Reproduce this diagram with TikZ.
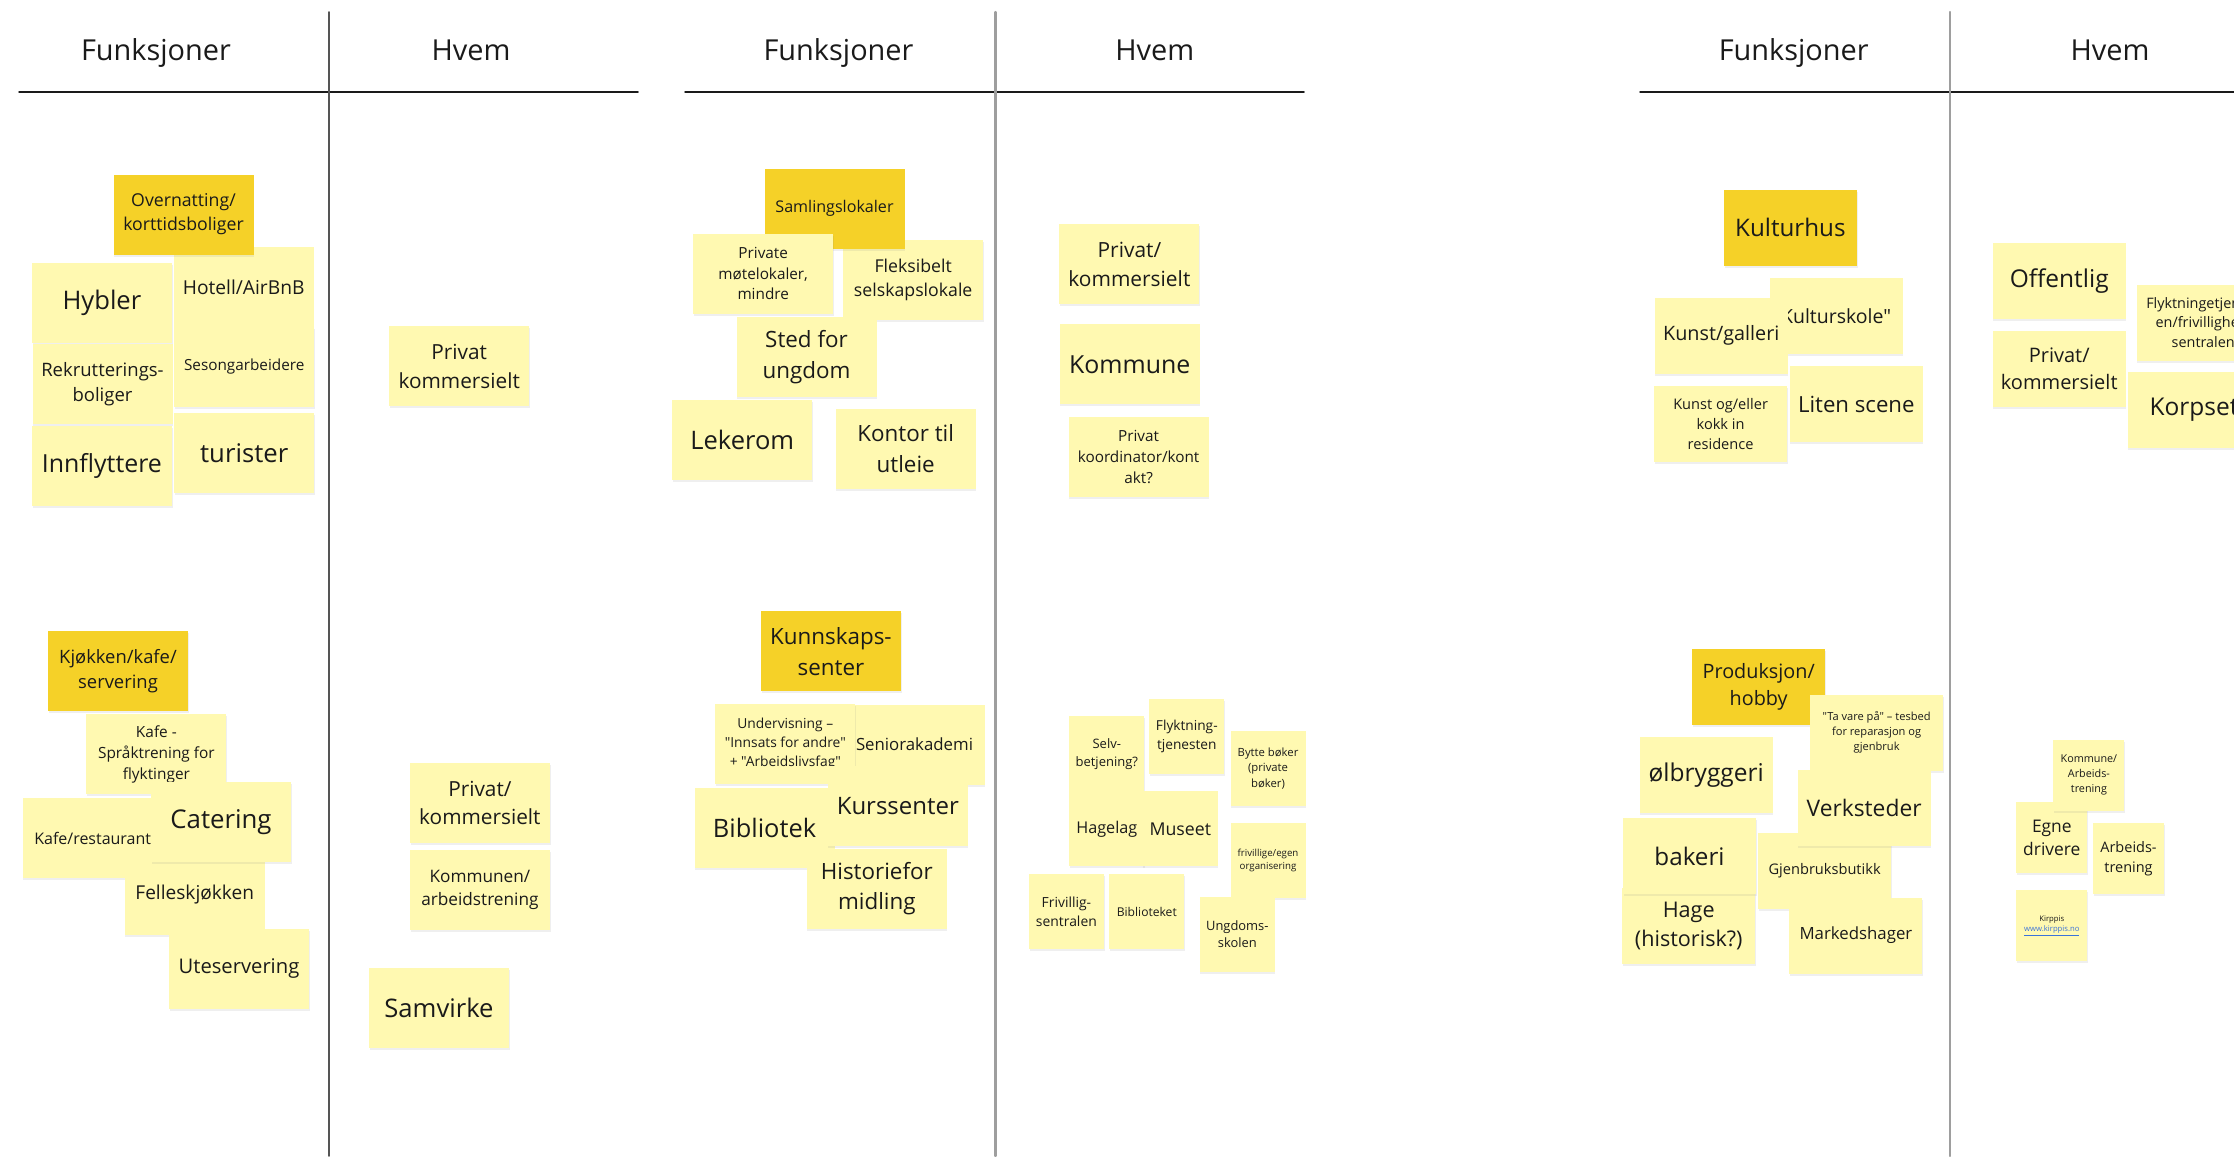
\documentclass[tikz,border=0pt]{standalone}
\usepackage{fontspec}
\setmainfont{Open Sans}[Ligatures=TeXOff]
\usetikzlibrary{shadows}
\definecolor{lappgul}{HTML}{FFF9B1}
\definecolor{hovedgul}{HTML}{F5D128}
\definecolor{tekst}{HTML}{1A1A1A}
\definecolor{skille}{HTML}{9E9E9E}
\definecolor{skillemork}{HTML}{555555}
\definecolor{lenke}{HTML}{3B73D9}
\newcommand\lappfont[1]{\pgfmathsetmacro\lappskip{1.36*#1}\fontsize{#1}{\lappskip}\selectfont}
\tikzset{
  lapp/.style={rectangle,fill=lappgul,text=tekst,align=center,inner sep=2pt,
    minimum width=140pt,minimum height=80pt,
    drop shadow={shadow xshift=0.6pt,shadow yshift=-2pt,opacity=0.12}},
  hovedlapp/.style={lapp,fill=hovedgul},
  smal/.style={minimum width=75pt,minimum height=75pt},
  mellom/.style={minimum width=133pt,minimum height=76pt},
  minst/.style={minimum width=71pt,minimum height=71pt},
  fs/.style={font=\lappfont{#1}},
  overskrift/.style={anchor=base,text=tekst,font=\lappfont{28.9}}
}
\begin{document}
\begin{tikzpicture}[line cap=round,line join=round,x=1.0pt,y=-1.0pt]
            \clip(0.,0.) rectangle (2234.,1156.);
            \fill[white] (0.,0.) rectangle (2234.,1156.);
            \draw [line width=1.5pt,color=tekst] (19.,92.)-- (638.,92.);
            \draw [line width=1.5pt,color=tekst] (685.,92.)-- (1304.,92.);
            \draw [line width=1.5pt,color=tekst] (1640.,92.)-- (2234.,92.);
            \draw [line width=1.8pt,color=skillemork] (328.7,12.)-- (328.7,1156.);
            \draw [line width=2.2pt,color=skille] (995.5,12.)-- (995.5,1156.);
            \draw [line width=2.2pt,color=skille] (1950.,12.)-- (1950.,1156.);
            \draw (156.,60.3) node[overskrift] (funk1) {Funksjoner};
            \draw (471.,60.3) node[overskrift] (hvem1) {Hvem};
            \draw (838.5,60.3) node[overskrift] (funk2) {Funksjoner};
            \draw (1154.7,60.3) node[overskrift] (hvem2) {Hvem};
            \draw (1793.7,60.3) node[overskrift] (funk3) {Funksjoner};
            \draw (2110.,60.3) node[overskrift] (hvem3) {Hvem};
            \draw (243.7,286.8) node[lapp,fs=19.2] (hotell) {Hotell/AirBnB};
            \draw (183.5,214.5) node[hovedlapp,fs=17.7] (overnatting) {Overnatting/\\korttidsboliger};
            \draw (101.9,302.7) node[lapp,fs=25.6] (hybler) {Hybler};
            \draw (244.2,366.9) node[lapp,fs=15.3] (sesong) {Sesongarbeidere};
            \draw (102.5,384.3) node[lapp,fs=18.5] (rekruttering) {Rekrutterings-\\boliger};
            \draw (101.9,466.1) node[lapp,fs=24.9] (innflyttere) {Innflyttere};
            \draw (244.2,452.8) node[lapp,fs=25.7] (turister) {turister};
            \draw (459.2,366.4) node[lapp,fs=20.8] (privat1) {Privat\\kommersielt};
            \draw (118.,670.7) node[hovedlapp,fs=18.4] (kjokken) {Kjøkken/kafe/\\servering};
            \draw (156.4,754.2) node[lapp,fs=15.4] (kafesprak) {Kafe -\\Språktrening for\\flyktinger};
            \draw (92.7,838.2) node[lapp,fs=16.] (kaferest) {Kafe/restaurant};
            \draw (194.7,895.) node[lapp,fs=19.1] (felles) {Felleskjøkken};
            \draw (221.,822.) node[lapp,fs=25.8] (catering) {Catering};
            \draw (239.,968.7) node[lapp,fs=20.2] (ute) {Uteservering};
            \draw (479.9,802.7) node[lapp,fs=20.8] (privat2) {Privat/\\kommersielt};
            \draw (479.9,889.7) node[lapp,fs=17.2] (kommunen) {Kommunen/\\arbeidstrening};
            \draw (439.,1007.6) node[lapp,fs=25.6] (samvirke) {Samvirke};
            \draw (913.2,280.3) node[lapp,fs=17.7] (fleksibelt) {Fleksibelt\\selskapslokale};
            \draw (834.5,208.7) node[hovedlapp,fs=16.1] (samling) {Samlingslokaler};
            \draw (763.2,273.5) node[lapp,fs=15.3] (motelokaler) {Private\\møtelokaler,\\mindre};
            \draw (806.5,356.9) node[lapp,fs=22.4] (ungdomssted) {Sted for\\ungdom};
            \draw (742.3,440.1) node[lapp,fs=25.5] (lekerom) {Lekerom};
            \draw (905.7,448.7) node[lapp,fs=22.4] (kontor) {Kontor til\\utleie};
            \draw (1129.4,264.3) node[lapp,fs=20.9] (privat3) {Privat/\\kommersielt};
            \draw (1129.7,364.4) node[lapp,fs=24.9] (kommune) {Kommune};
            \draw (1138.6,456.7) node[lapp,fs=15.3] (koordinator) {Privat\\koordinator/kont\\akt?};
            \draw (830.9,651.4) node[hovedlapp,fs=22.4] (kunnskap) {Kunnskaps-\\senter};
            \draw (914.5,744.5) node[lapp,fs=16.8] (senior) {Seniorakademi};
            \draw (785.3,743.9) node[lapp,fs=13.8] (undervisning) {Undervisning –\\"Innsats for andre"\\+ "Arbeidslivsfag"};
            \draw (764.5,828.2) node[lapp,fs=25.4] (bibliotek) {Bibliotek};
            \draw (897.8,805.8) node[lapp,fs=24.] (kurs) {Kurssenter};
            \draw (876.8,888.7) node[lapp,fs=22.4] (historie) {Historiefor\\midling};
            \draw (1106.8,753.8) node[lapp,smal,fs=13.] (selv) {Selv-\\betjening?};
            \draw (1186.8,736.5) node[lapp,smal,fs=13.7] (flyktning) {Flyktning-\\tjenesten};
            \draw (1268.,768.3) node[lapp,smal,fs=11.3] (bytte) {Bytte bøker\\(private\\bøker)};
            \draw (1106.8,828.8) node[lapp,smal,fs=16.2] (hagelag) {Hagelag};
            \draw (1180.3,828.8) node[lapp,smal,fs=17.7] (museet) {Museet};
            \draw (1268.,860.3) node[lapp,smal,fs=9.7] (frivillige) {frivillige/egen\\organisering};
            \draw (1066.4,911.7) node[lapp,smal,fs=13.9] (frivsentral) {Frivillig-\\sentralen};
            \draw (1146.8,911.7) node[lapp,smal,fs=12.1] (biblioteket) {Biblioteket};
            \draw (1237.3,934.1) node[lapp,smal,fs=12.9] (ungdomsskole) {Ungdoms-\\skolen};
            \draw (1790.4,227.9) node[hovedlapp,mellom,fs=24.2] (kulturhus) {Kulturhus};
            \draw (1836.1,316.1) node[lapp,mellom,fs=19.5] (kulturskole) {Kulturskole"};
            \draw (1721.2,335.5) node[lapp,mellom,fs=19.8] (galleri) {Kunst/galleri};
            \draw (1720.6,423.9) node[lapp,mellom,fs=14.6] (residence) {Kunst og/eller\\kokk in\\residence};
            \draw (1856.3,404.3) node[lapp,mellom,fs=22.2] (scene) {Liten scene};
            \draw (2059.2,280.7) node[lapp,mellom,fs=24.5] (offentlig) {Offentlig};
            \draw (2059.2,368.8) node[lapp,mellom,fs=20.] (privat4) {Privat/\\kommersielt};
            \draw (2203.2,322.5) node[lapp,mellom,fs=14.4] (flyktsentral) {Flyktningetjenest\\en/frivillighets\\sentralen};
            \draw (2194.,409.8) node[lapp,mellom,fs=24.5] (korpset) {Korpset};
            \draw (1758.7,686.8) node[hovedlapp,mellom,fs=19.8] (produksjon) {Produksjon/\\hobby};
            \draw (1876.6,732.5) node[lapp,mellom,fs=11.1] (tavare) {"Ta vare på" – tesbed\\for reparasjon og\\gjenbruk};
            \draw (1706.2,774.8) node[lapp,mellom,fs=24.5] (ol) {ølbryggeri};
            \draw (1824.6,871.1) node[lapp,mellom,fs=14.6] (gjenbruk) {Gjenbruksbutikk};
            \draw (1864.1,808.2) node[lapp,mellom,fs=22.8] (verksted) {Verksteder};
            \draw (1688.7,925.8) node[lapp,mellom,fs=21.6] (hage) {Hage\\(historisk?)};
            \draw (1689.5,856.3) node[lapp,mellom,fs=24.2] (bakeri) {bakeri};
            \draw (1855.9,935.5) node[lapp,mellom,fs=16.8] (marked) {Markedshager};
            \draw (2051.8,837.9) node[lapp,minst,fs=17.4] (egne) {Egne\\drivere};
            \draw (2088.9,775.) node[lapp,minst,fs=10.8] (komarb) {Kommune/\\Arbeids-\\trening};
            \draw (2128.5,858.7) node[lapp,minst,fs=14.5] (arbeid) {Arbeids-\\trening};
            \draw (2051.8,925.7) node[lapp,minst,fs=7.7] (kirppis) {Kirppis\\{\color{lenke}\underline{www.kirppis.no}}};
        \end{tikzpicture}
\end{document}
